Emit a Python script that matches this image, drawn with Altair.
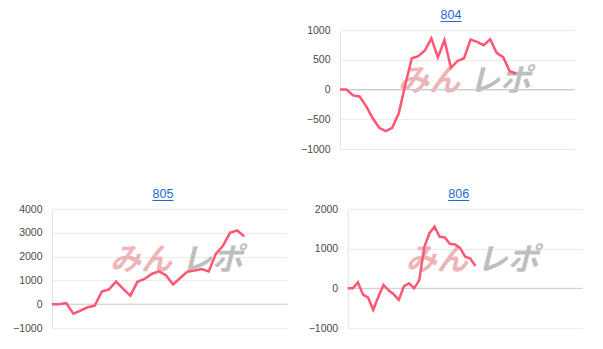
import altair as alt
import pandas as pd

# ---- data ----
names = ["804", "805", "806"]
v804 = [0, 0, -100, -118, -280, -480, -644, -700, -644, -400, 80, 525, 560, 655,
        860, 540, 830, 365, 480, 525, 840, 800, 745, 845, 616, 543, 308, 265]
v805 = [0, 0, 50, -400, -270, -130, -60, 535, 625, 950, 640, 360, 940, 1060,
        1270, 1380, 1220, 830, 1100, 1366, 1410, 1480, 1380, 2110, 2450, 3000, 3100, 2850]
v806 = [0, 0, 150, -160, -235, -545, -212, 86, -50, -150, -290, 50, 128, 0,
        200, 1040, 1390, 1555, 1300, 1285, 1123, 1106, 1021, 795, 750, 565]
xmax = {"804": 36, "805": 33, "806": 46}
ydomains = {"804": [-1000, 1000], "805": [-1000, 4000], "806": [-1000, 2000]}
yticks = {"804": [-1000, -500, 0, 500, 1000],
          "805": [-1000, 0, 1000, 2000, 3000, 4000],
          "806": [-1000, 0, 1000, 2000]}
wm_left = "みん"
wm_right = "レポ"

RED = "#ff5674"
BLUE = "#1a6bd0"
W, H = 235, 119


def panel(name, vals):
    df = pd.DataFrame({"i": list(range(len(vals))), "v": vals})
    zdf = pd.DataFrame({"v": [0]})
    one = pd.DataFrame({"k": [0]})
    x = alt.X("i:Q", scale=alt.Scale(domain=[0, xmax[name]], nice=False, zero=False), axis=None)
    yaxis = alt.Axis(values=yticks[name], title=None, grid=True, ticks=False,
                     labelPadding=10, labelFlush=False, labelOverlap=False,
                     domainColor="#e4e4e4", gridColor="#ebebeb",
                     labelColor="#4a4a4a", labelFontSize=10.5,
                     labelFont="Liberation Sans", format="d")
    y = alt.Y("v:Q", scale=alt.Scale(domain=ydomains[name], nice=False), axis=yaxis)
    wm1 = alt.Chart(one).mark_text(text=wm_left, font="Noto Sans CJK JP", fontSize=31,
                                   fontWeight="bold", fontStyle="italic", color="#ecaeb2",
                                   opacity=0.9, baseline="middle", align="center").encode(
        x=alt.value(89), y=alt.value(52))
    wm2 = alt.Chart(one).mark_text(text=wm_right, font="Noto Sans CJK JP", fontSize=31,
                                   fontWeight="bold", fontStyle="italic", color="#b8b8b8",
                                   opacity=0.9, baseline="middle", align="center").encode(
        x=alt.value(160), y=alt.value(52))
    zero = alt.Chart(zdf).mark_rule(color="#cccccc", strokeWidth=1).encode(y=y)
    line = alt.Chart(df).mark_line(color=RED, strokeWidth=2.5).encode(x=x, y=y)
    title = alt.Chart(one).mark_text(text=name, font="Liberation Sans", fontSize=12.5,
                                     color=BLUE, baseline="alphabetic", align="center").encode(
        x=alt.value(111), y=alt.value(-11))
    ul = alt.Chart(one).mark_rule(color=BLUE, strokeWidth=1).encode(
        x=alt.value(100.5), x2=alt.value(121.5), y=alt.value(-8.5))
    return alt.layer(wm1, wm2, zero, line, title, ul).properties(width=W, height=H)


placeholder = alt.Chart(pd.DataFrame({"k": [0]})).mark_point(opacity=0).encode(
    x=alt.value(0), y=alt.value(0)).properties(width=228, height=H)

top = alt.hconcat(placeholder, panel("804", v804), spacing=20)
bottom = alt.hconcat(panel("805", v805), panel("806", v806), spacing=19.7)

chart = alt.vconcat(top, bottom, spacing=33).properties(
    padding={"left": 12, "top": 9, "right": 0, "bottom": 0}
).configure_view(strokeWidth=0).configure_axis(labelOverlap=False)

chart.save("out.html", embed_options={"renderer": "svg", "actions": False})
